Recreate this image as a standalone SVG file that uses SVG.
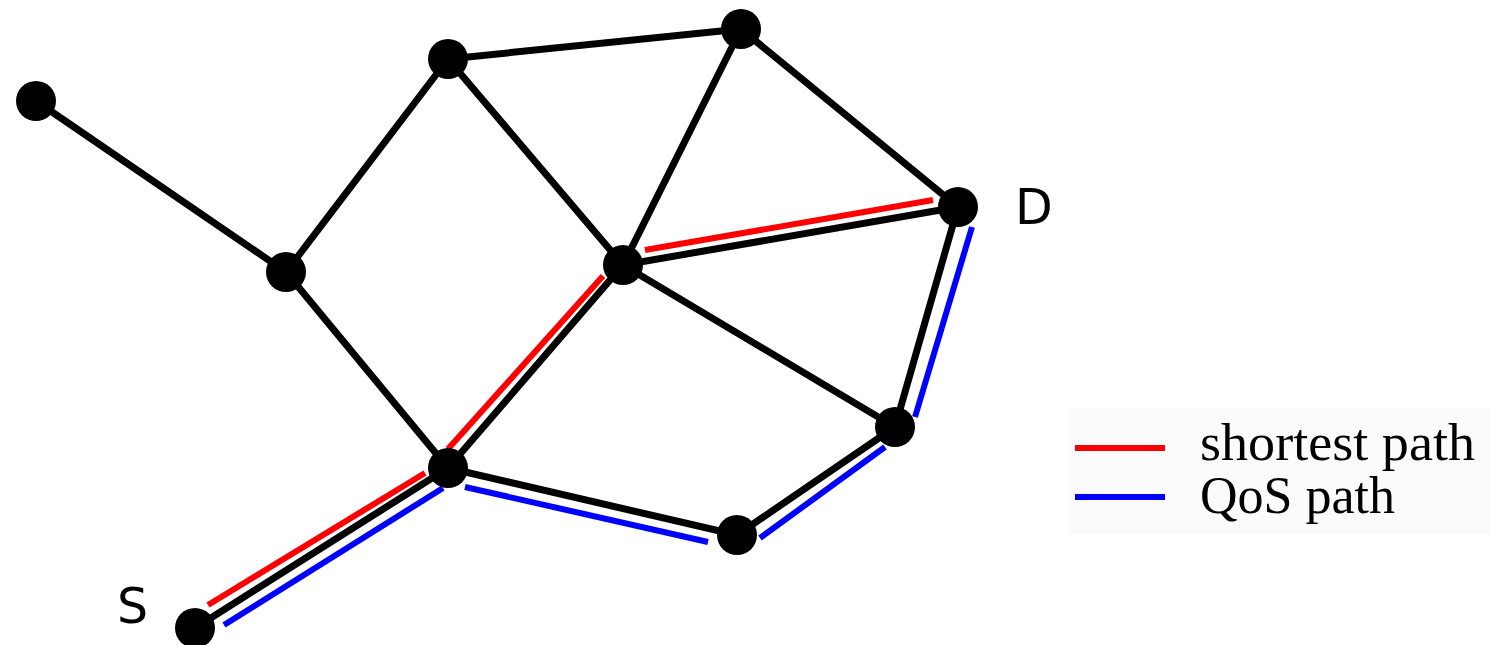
<svg xmlns="http://www.w3.org/2000/svg" width="1490" height="645" viewBox="0 0 1490 645">
<style>
.e{stroke:#000;stroke-width:7;fill:none;stroke-linecap:round}
.r{stroke:#ff0000;stroke-width:6;fill:none}
.b{stroke:#0000ff;stroke-width:6;fill:none}
.n{fill:#000}
.lbl{font-family:"DejaVu Sans",sans-serif;font-size:49px;fill:#000}
.leg{font-family:"Liberation Serif",serif;font-size:52px;fill:#000}
</style>
<rect width="1490" height="645" fill="#fff"/>
<rect x="1068" y="408" width="422" height="126" fill="#fbfbfb"/>
<g id="connectors">
<line class="e" x1="36" y1="101" x2="286" y2="272"/>
<line class="e" x1="286" y1="272" x2="448" y2="59"/>
<line class="e" x1="448" y1="59" x2="741" y2="29"/>
<line class="e" x1="448" y1="59" x2="623" y2="265"/>
<line class="e" x1="741" y1="29" x2="623" y2="265"/>
<line class="e" x1="741" y1="29" x2="958" y2="207"/>
<line class="e" x1="286" y1="272" x2="448" y2="468"/>
<line class="e" x1="623" y1="265" x2="448" y2="468"/>
<line class="e" x1="623" y1="265" x2="958" y2="207"/>
<line class="e" x1="623" y1="265" x2="895" y2="427"/>
<line class="e" x1="958" y1="207" x2="895" y2="427"/>
<line class="e" x1="448" y1="468" x2="737" y2="535"/>
<line class="e" x1="737" y1="535" x2="895" y2="427"/>
<line class="e" x1="448" y1="468" x2="195" y2="628"/>
<g id="shortest">
<line class="r" x1="208" y1="605" x2="425" y2="473"/>
<line class="r" x1="448" y1="449" x2="603" y2="276"/>
<line class="r" x1="645" y1="250" x2="933" y2="200"/>
</g>
<g id="qos">
<line class="b" x1="224" y1="625" x2="443" y2="488"/>
<line class="b" x1="465" y1="487" x2="708" y2="542"/>
<line class="b" x1="760" y1="538" x2="885" y2="447"/>
<line class="b" x1="915" y1="417" x2="972" y2="227"/>
</g>
</g>
<g id="nA"><circle class="n" cx="36" cy="101" r="20"/></g>
<g id="nB"><circle class="n" cx="448" cy="59" r="20"/></g>
<g id="nC"><circle class="n" cx="741" cy="29" r="20"/></g>
<g id="nE"><circle class="n" cx="286" cy="272" r="20"/></g>
<g id="nF"><circle class="n" cx="623" cy="265" r="20"/></g>
<g id="nD"><circle class="n" cx="958" cy="207" r="20"/><text class="lbl" x="1015" y="224">D</text></g>
<g id="nG"><circle class="n" cx="895" cy="427" r="20"/></g>
<g id="nH"><circle class="n" cx="448" cy="468" r="20"/></g>
<g id="nI"><circle class="n" cx="737" cy="535" r="20"/></g>
<g id="nS"><circle class="n" cx="195" cy="628" r="20"/><text class="lbl" x="117" y="623">S</text></g>
<g id="legend">
<line class="r" x1="1075" y1="448" x2="1165" y2="448"/>
<line class="b" x1="1075" y1="497" x2="1165" y2="497"/>
<text class="leg" x="1200" y="460" textLength="275" lengthAdjust="spacingAndGlyphs">shortest path</text>
<text class="leg" x="1200" y="513" textLength="195" lengthAdjust="spacingAndGlyphs">QoS path</text>
</g>
</svg>
